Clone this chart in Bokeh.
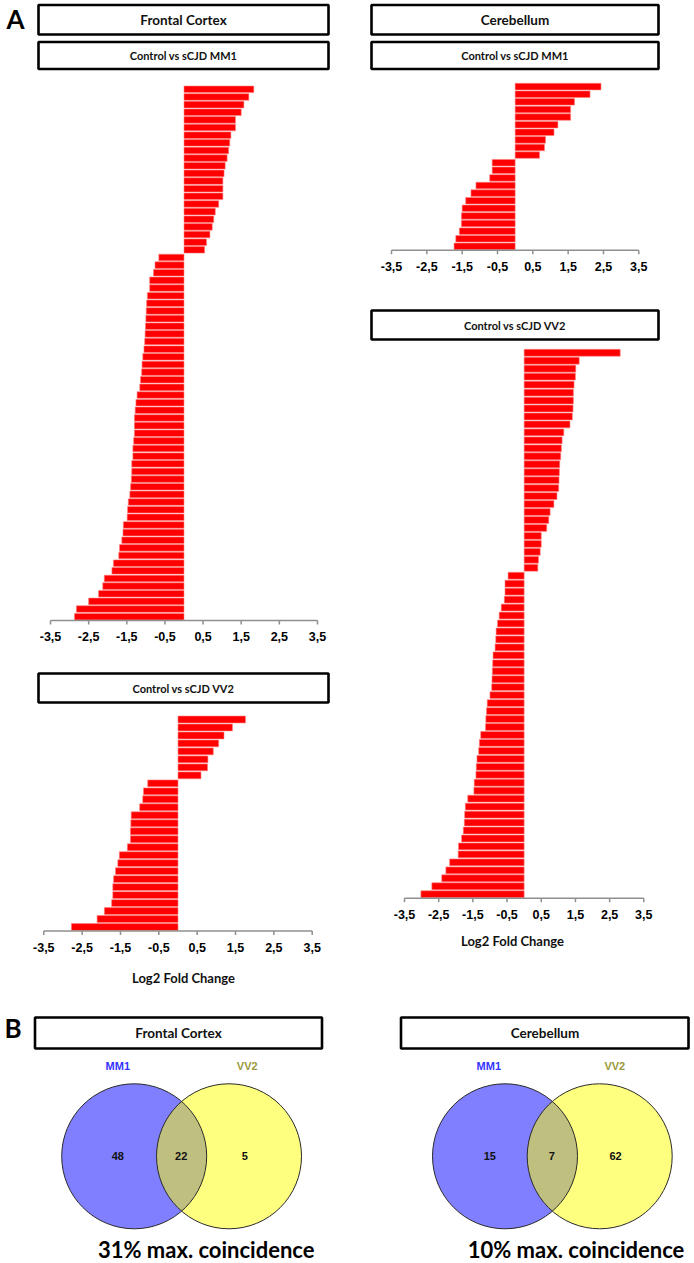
from bokeh.plotting import figure
from bokeh.models import Range1d
from bokeh.embed import file_html
from bokeh.resources import INLINE
from bokeh.core.properties import value

# ---------------- data (Log2 fold change, top bar first) ----------------
fc_mm1 = [1.83, 1.70, 1.57, 1.50, 1.35, 1.35, 1.23, 1.20, 1.17, 1.13, 1.08,
          1.05, 1.02, 1.02, 1.02, 0.91, 0.82, 0.78, 0.74, 0.68, 0.59, 0.54,
          -0.66, -0.76, -0.80, -0.90, -0.90, -0.96, -0.98, -0.99, -1.00, -1.01,
          -1.02, -1.03, -1.05, -1.08, -1.10, -1.11, -1.14, -1.16, -1.23, -1.26,
          -1.28, -1.30, -1.30, -1.30, -1.32, -1.34, -1.34, -1.37, -1.37, -1.38,
          -1.40, -1.42, -1.46, -1.48, -1.49, -1.59, -1.60, -1.63, -1.69, -1.71,
          -1.85, -1.89, -2.09, -2.13, -2.24, -2.50, -2.82, -2.87]
cb_mm1 = [2.43, 2.12, 1.68, 1.57, 1.57, 1.21, 1.10, 0.86, 0.83, 0.69,
          -0.65, -0.65, -0.72, -1.11, -1.25, -1.40, -1.50, -1.52, -1.52, -1.58,
          -1.68, -1.73]
fc_vv2 = [1.76, 1.42, 1.20, 1.06, 0.92, 0.78, 0.77, 0.60,
          -0.79, -0.90, -0.92, -1.00, -1.22, -1.23, -1.24, -1.24, -1.32, -1.53,
          -1.57, -1.63, -1.68, -1.70, -1.70, -1.73, -1.92, -2.11, -2.78]
cb_vv2 = [2.81, 1.61, 1.51, 1.50, 1.46, 1.44, 1.44, 1.43, 1.41, 1.34, 1.16,
          1.11, 1.09, 1.07, 1.04, 1.03, 1.02, 1.01, 0.96, 0.87, 0.76, 0.72,
          0.66, 0.50, 0.50, 0.47, 0.42, 0.40,
          -0.47, -0.56, -0.56, -0.58, -0.67, -0.73, -0.78, -0.82, -0.83, -0.85,
          -0.91, -0.92, -0.93, -0.94, -0.95, -1.00, -1.08, -1.10, -1.12, -1.13,
          -1.27, -1.31, -1.33, -1.38, -1.40, -1.41, -1.46, -1.47, -1.65, -1.72,
          -1.74, -1.75, -1.78, -1.83, -1.92, -1.93, -2.18, -2.29, -2.41, -2.70,
          -3.02]
tick_values = [-3.5, -2.5, -1.5, -0.5, 0.5, 1.5, 2.5, 3.5]
tick_labels = ["-3,5", "-2,5", "-1,5", "-0,5", "0,5", "1,5", "2,5", "3,5"]
axis_title = "Log2 Fold Change"

regions = ["Frontal Cortex", "Cerebellum"]
comparisons = ["Control vs sCJD MM1", "Control vs sCJD VV2"]
venn_sets = ["MM1", "VV2"]
venn_fc = [48, 22, 5]   # only MM1, both, only VV2
venn_cb = [15, 7, 62]
coincidence = ["31% max. coincidence", "10% max. coincidence"]

# ---------------- figure (data coords = page pixel coords) ----------------
p = figure(width=694, height=1263, x_range=Range1d(0, 694), y_range=Range1d(1263, 0),
           output_backend="svg", toolbar_location=None, min_border=0,
           x_axis_location=None, y_axis_location=None)
p.grid.visible = False
p.outline_line_color = None
p.background_fill_color = "white"

CAL = value("Lato")
ARI = value("Liberation Sans")


def box(l, r, t, b, label, tx, ty, size):
    p.quad(left=l, right=r, top=t, bottom=b, fill_color=None,
           line_color="black", line_width=2.6)
    p.text(x=[tx], y=[ty], text=[label], text_font=CAL, text_font_style="bold",
           text_font_size=size, text_align="center", text_baseline="middle",
           text_color="#111111")


def panel(vals, xt, yt):
    n = len(vals)
    sub = p.subplot(x_source=Range1d(min(tick_values), max(tick_values)),
                    y_source=Range1d(-0.5, n - 0.5),
                    x_target=Range1d(*xt), y_target=Range1d(*yt))
    bar_px = (yt[1] - yt[0]) / n
    sub.hbar(y=list(range(n)), left=0, right=vals, height=0.86,
             fill_color="#ff0000", line_color="#ff8080", line_width=0.6)
    base = n - 0.5
    k = len(tick_values)
    sub.segment(x0=[tick_values[0]], y0=[base], x1=[tick_values[-1]], y1=[base],
                line_color="#8f8f8f", line_width=1.5)
    sub.segment(x0=tick_values, y0=[base] * k, x1=tick_values,
                y1=[base + 4.0 / bar_px] * k, line_color="#8f8f8f", line_width=1.5)
    sub.text(x=tick_values, y=[base + 16.0 / bar_px] * k, text=tick_labels,
             text_font=ARI, text_font_style="bold", text_font_size="12.5px",
             text_align="center", text_baseline="middle", text_color="#000000")


# ---------------- panel A ----------------
p.text(x=[15], y=[18], text=["A"], text_font=CAL, text_font_style="bold",
       text_font_size="26px", text_align="center", text_baseline="middle")

box(38, 328, 4.5, 34, regions[0], 183, 19, "13.5px")
box(371, 658, 4.5, 34, regions[1], 514.5, 19, "13.5px")
box(38, 328, 41.5, 68.5, comparisons[0], 183, 55, "11px")
box(371, 658, 41.5, 68.5, comparisons[0], 514.5, 55, "11px")
box(371, 658, 310, 339, comparisons[1], 514.5, 324.5, "11px")
box(38, 328, 673, 702, comparisons[1], 183, 687.5, "11px")

panel(fc_mm1, (50, 317), (85, 620))
panel(cb_mm1, (391, 638.3), (82.3, 249.7))
panel(fc_vv2, (43.3, 311.7), (715, 930.5))
panel(cb_vv2, (404, 643.3), (348.3, 897.7))

p.text(x=[183, 512], y=[977, 940.5], text=[axis_title, axis_title], text_font=CAL,
       text_font_style="bold", text_font_size="13px", text_align="center",
       text_baseline="middle", text_color="#111111")

# ---------------- panel B (Venn) ----------------
p.text(x=[12.5], y=[1027.5], text=["B"], text_font=CAL, text_font_style="bold",
       text_font_size="26px", text_align="center", text_baseline="middle")
box(34.5, 321.5, 1017, 1048, regions[0], 178, 1032.5, "13.5px")
box(400.5, 688, 1017, 1048, regions[1], 544.5, 1032.5, "13.5px")


def venn(cx_blue, cx_yellow, cy, counts, count_x, lab_x, title, title_x):
    r2 = 145
    p.ellipse(x=[cx_blue, cx_yellow], y=[cy, cy], width=r2, height=r2,
              fill_color=["#0000ff", "#ffff00"], fill_alpha=0.5, line_color=None)
    p.ellipse(x=[cx_blue, cx_yellow], y=[cy, cy], width=r2, height=r2,
              fill_color=None, line_color="#2a2a2a", line_width=1)
    p.text(x=count_x, y=[cy] * 3, text=[str(c) for c in counts], text_font=ARI,
           text_font_style="bold", text_font_size="11px", text_align="center",
           text_baseline="middle", text_color="#111111")
    p.text(x=lab_x, y=[1065, 1065], text=venn_sets, text_font=ARI,
           text_font_style="bold", text_font_size="11px", text_align="center",
           text_baseline="middle", text_color=["#3333ff", "#9a9a3a"])
    p.text(x=[title_x], y=[1249], text=[title], text_font=CAL,
           text_font_style="bold", text_font_size="22px", text_align="center",
           text_baseline="middle", text_color="#000000")


venn(133.7, 228.5, 1155.8, venn_fc, [117.3, 180.7, 244.3], [117.3, 246.7],
     coincidence[0], 205.7)
venn(504.5, 599.2, 1155.8, venn_cb, [489.3, 551.3, 615.0], [488.3, 614.3],
     coincidence[1], 575.5)

open("out.html", "w").write(file_html(p, INLINE))
